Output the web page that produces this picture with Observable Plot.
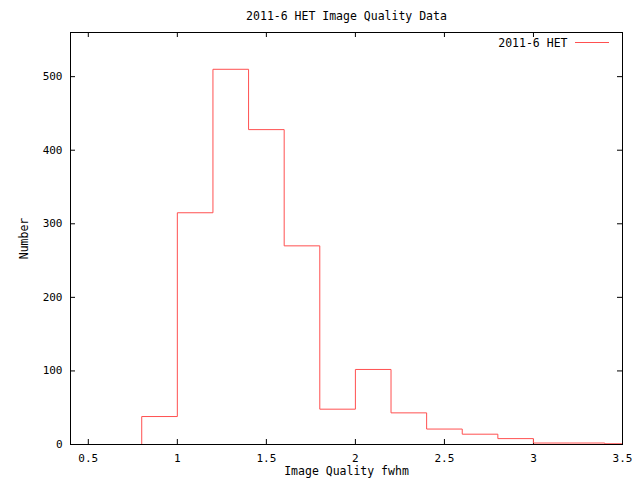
<!DOCTYPE html>
<html>
<head>
<meta charset="utf-8">
<script src="https://cdn.jsdelivr.net/npm/d3@7"></script>
<script src="https://cdn.jsdelivr.net/npm/@observablehq/plot@0.6"></script>
<style>
  html, body { margin: 0; padding: 0; background: #fff; }
</style>
</head>
<body>
<div id="chart"></div>
<script>
const title = "2011-6 HET Image Quality Data";
const seriesName = "2011-6 HET";
const xLabel = "Image Quality fwhm";
const yLabel = "Number";
const binStart = [0.8, 1.0, 1.2, 1.4, 1.6, 1.8, 2.0, 2.2, 2.4, 2.6, 2.8, 3.0, 3.2, 3.4];
const counts   = [38, 315, 510, 428, 270, 48, 102, 43, 21, 14, 8, 2, 2, 1];
const binWidth = 0.2;
const xTicks = [0.5, 1, 1.5, 2, 2.5, 3, 3.5];
const yTicks = [0, 100, 200, 300, 400, 500];
const lineColor = "#ff5050";

const W = 640, H = 480;
const mL = 70, mR = 18, mT = 32, mB = 36;
const innerW = W - mL - mR, innerH = H - mT - mB;
const tick = 5;

// step outline points: rise at first bin edge, then each bin, then end of last bin
const steps = [{x: binStart[0], y: 0}]
  .concat(binStart.map((b, i) => ({x: b, y: counts[i]})))
  .concat([{x: binStart[binStart.length - 1] + binWidth, y: counts[counts.length - 1]}]);

const chart = Plot.plot({
  width: W, height: H,
  marginLeft: mL, marginRight: mR, marginTop: mT, marginBottom: mB,
  style: {fontFamily: "DejaVu Sans Mono", fontSize: "11px", color: "black", background: "white"},
  x: {domain: [0.4, 3.5], ticks: xTicks, tickFormat: d => String(d)},
  y: {domain: [0, 560], ticks: yTicks},
  marks: [
    Plot.axisX(xTicks, {tickSize: 0, tickPadding: 10, label: null, tickFormat: d => String(d)}),
    Plot.axisY(yTicks, {tickSize: 0, tickPadding: 8, label: null}),
    Plot.tickX(xTicks, {x: d => d, insetTop: innerH - tick, stroke: "black"}),
    Plot.tickX(xTicks, {x: d => d, insetBottom: innerH - tick, stroke: "black"}),
    Plot.tickY(yTicks, {y: d => d, insetRight: innerW - tick, stroke: "black"}),
    Plot.tickY(yTicks, {y: d => d, insetLeft: innerW - tick, stroke: "black"}),
    Plot.line(steps, {x: "x", y: "y", curve: "step-after", stroke: lineColor, strokeWidth: 1, clip: true}),
    Plot.frame({stroke: "black"}),
    Plot.text([title], {frameAnchor: "top", lineAnchor: "middle", dy: -16, fontSize: 11.5}),
    Plot.text([xLabel], {frameAnchor: "bottom", lineAnchor: "middle", dy: 27, fontSize: 11.5}),
    Plot.text([yLabel], {frameAnchor: "left", lineAnchor: "middle", textAnchor: "middle", dx: -46, rotate: -90, fontSize: 11.5}),
    Plot.text([seriesName], {frameAnchor: "top-right", lineAnchor: "middle", dx: -55, dy: 11, textAnchor: "end", fontSize: 11.5})
  ]
});

// legend swatch
d3.select(chart).append("line")
  .attr("x1", W - mR - 47).attr("x2", W - mR - 13)
  .attr("y1", mT + 10.5).attr("y2", mT + 10.5)
  .attr("stroke", lineColor).attr("stroke-width", 1);

document.getElementById("chart").appendChild(chart);
</script>
</body>
</html>
